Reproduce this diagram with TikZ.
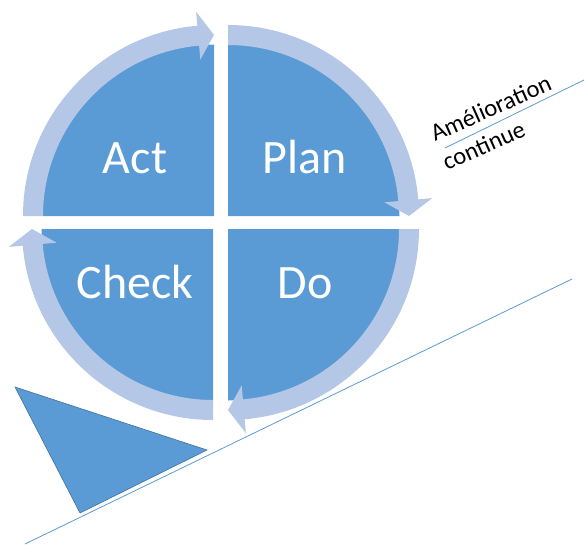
\documentclass[tikz,border=0pt]{standalone}
\usepackage{fontspec}
\setmainfont{Carlito}
\definecolor{qblue}{HTML}{5B9BD5}
\definecolor{rblue}{HTML}{B4C7E7}
\definecolor{lineblue}{HTML}{5B9BD5}
\definecolor{edgeblue}{HTML}{41719C}
\newcommand{\cyclearrow}[4]{% center, start, head base, end
  \fill[ringfill, shift={(#1)}] (#2:191) arc[start angle=#2, end angle=#3, radius=191]
    -- (#3:205) -- (#4:181) -- (#3:157) -- (#3:171)
    arc[start angle=#3, end angle=#2, radius=171] -- cycle;}
\tikzset{
  quad/.style={fill=qblue},
  ringfill/.style={fill=rblue},
  biglabel/.style={text=white, font=\fontsize{48}{50}\selectfont, anchor=base, inner sep=0pt},
  smalllabel/.style={text=black, font=\fontsize{24.5}{26}\selectfont, anchor=base west, inner sep=0pt, rotate=24},
  slope/.style={draw=lineblue, line width=0.8pt},
}
\begin{document}
\begin{tikzpicture}[x=1pt,y=-1pt]
\useasboundingbox (0,0) rectangle (586,544);
% centres of the four quadrants
\coordinate (cA) at (214,216);
\coordinate (cP) at (228,216);
\coordinate (cD) at (228,229);
\coordinate (cC) at (213,229);
% quadrants
\fill[quad] (cA) -- ++(180:171.5) arc[start angle=180, end angle=270, radius=171.5] -- cycle;
\fill[quad] (cP) -- ++(270:171.5) arc[start angle=270, end angle=360, radius=171.5] -- cycle;
\fill[quad] (cD) -- ++(0:171.5) arc[start angle=0, end angle=90, radius=171.5] -- cycle;
\fill[quad] (cC) -- ++(90:171.5) arc[start angle=90, end angle=180, radius=171.5] -- cycle;
% cycle arrows
\cyclearrow{cA}{180}{265}{270}
\cyclearrow{cP}{270}{355}{360}
\cyclearrow{cD}{0}{85}{90}
\cyclearrow{cC}{90}{175}{180}
% labels
\node[biglabel] (act) at (135,173) {Act};
\node[biglabel] (plan) at (305,173) {Plan};
\node[biglabel] (check) at (135,298) {Check};
\node[biglabel] (do) at (305,298) {Do};
% wedge
\filldraw[fill=qblue, draw=edgeblue, line width=0.6pt] (15,387) -- (207,450) -- (80,513) -- cycle;
% slopes
\coordinate (s1) at (25,544);
\coordinate (s2) at (572,279);
\draw[slope] (s1) -- (s2);
\coordinate (u1) at (445,148);
\coordinate (u2) at (584,80);
\draw[slope] (u1) -- (u2);
\node[smalllabel] (amel) at (435,142) {Amélioration};
\node[smalllabel] (cont) at (447,171) {continue};
\end{tikzpicture}
\end{document}
